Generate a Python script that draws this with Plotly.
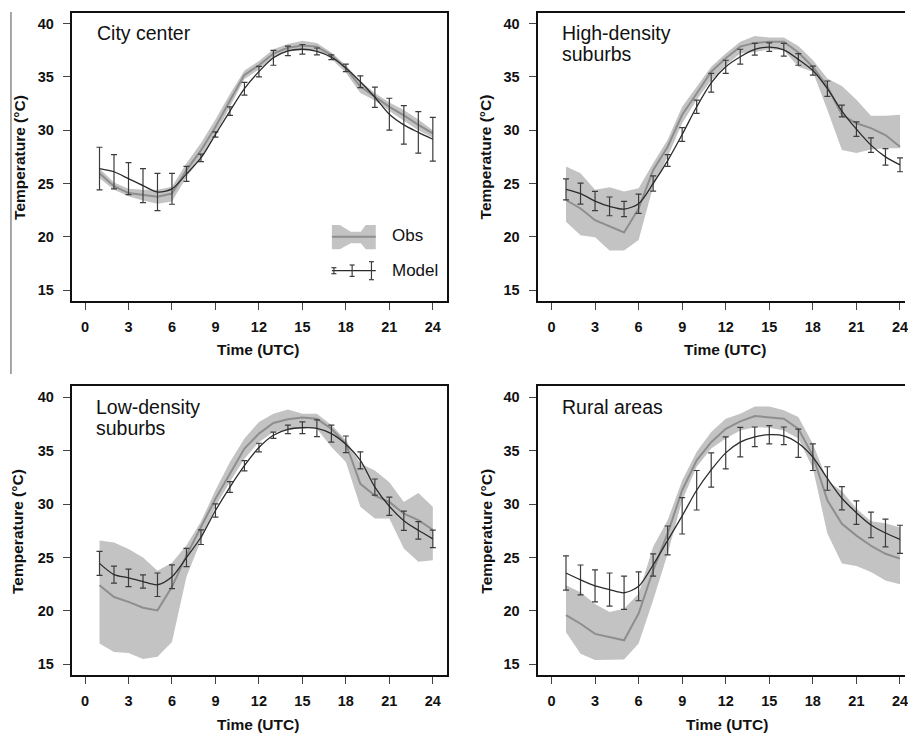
import plotly.graph_objects as go

hours = list(range(1, 25))
x_ticks = [0, 3, 6, 9, 12, 15, 18, 21, 24]
y_ticks = [15, 20, 25, 30, 35, 40]

panel_titles = [["City center"], ["High-density", "suburbs"], ["Low-density", "suburbs"], ["Rural areas"]]

# City center
model1 = [26.4, 26.1, 25.45, 24.8, 24.2, 24.5, 25.9, 27.4, 29.6, 31.8, 33.9, 35.5, 36.8, 37.45, 37.6, 37.4, 36.85, 35.85, 34.55, 33.1, 31.5, 30.5, 29.8, 29.15]
err1 = [2.0, 1.6, 1.5, 1.6, 1.75, 1.45, 0.7, 0.35, 0.25, 0.4, 0.6, 0.5, 0.7, 0.45, 0.45, 0.32, 0.22, 0.35, 0.55, 0.95, 1.5, 1.8, 1.95, 2.05]
obs1 = [25.95, 24.75, 24.1, 23.9, 23.75, 24.05, 26.25, 28.1, 30.3, 32.8, 35.2, 36.1, 37.2, 37.75, 37.95, 37.85, 37.05, 35.8, 34.1, 33.15, 32.2, 31.4, 30.5, 29.7]
obs1_lo = [25.5, 24.4, 23.8, 23.4, 23.1, 23.3, 25.6, 27.4, 29.6, 32.2, 34.8, 35.7, 36.8, 37.4, 37.5, 37.5, 36.7, 35.4, 33.5, 32.8, 31.8, 30.9, 30.0, 29.3]
obs1_hi = [26.4, 25.1, 24.5, 24.4, 24.4, 24.7, 26.9, 28.8, 31.0, 33.4, 35.6, 36.5, 37.6, 38.1, 38.4, 38.2, 37.3, 36.1, 34.6, 33.5, 32.6, 31.9, 31.0, 30.0]

# High-density suburbs
model2 = [24.45, 24.05, 23.35, 22.85, 22.6, 23.1, 25.0, 27.15, 29.6, 32.2, 34.45, 35.95, 36.9, 37.6, 37.8, 37.55, 36.65, 35.6, 33.9, 31.8, 30.1, 28.6, 27.5, 26.75]
err2 = [0.98, 0.98, 0.9, 0.88, 0.72, 0.9, 0.72, 0.55, 0.65, 0.62, 0.88, 0.62, 0.7, 0.55, 0.4, 0.6, 0.55, 0.42, 0.72, 0.55, 0.68, 0.68, 0.78, 0.65]
obs2 = [23.45, 22.65, 21.55, 21.0, 20.4, 22.65, 26.25, 28.45, 31.45, 33.45, 35.5, 36.75, 37.85, 38.2, 38.3, 38.3, 37.3, 35.95, 34.1, 31.45, 30.65, 30.2, 29.55, 28.45]
obs2_lo = [21.4, 20.15, 19.95, 18.7, 18.7, 19.7, 24.7, 27.5, 30.65, 32.85, 34.7, 36.1, 37.2, 37.35, 37.6, 37.5, 35.95, 35.5, 31.9, 28.15, 27.85, 28.2, 28.3, 28.3]
obs2_hi = [26.6, 25.95, 24.4, 24.65, 24.25, 24.55, 26.9, 29.1, 32.2, 34.1, 35.95, 37.2, 38.3, 38.85, 38.7, 38.7, 37.9, 36.6, 34.85, 34.15, 32.85, 31.35, 31.35, 31.45]

# Low-density suburbs
model3 = [24.45, 23.4, 23.1, 22.75, 22.45, 23.2, 25.0, 26.9, 29.4, 31.6, 33.6, 35.3, 36.45, 37.0, 37.15, 37.1, 36.6, 35.6, 34.1, 31.6, 29.8, 28.45, 27.55, 26.75]
err3 = [1.12, 0.8, 0.82, 0.62, 1.1, 1.12, 0.85, 0.68, 0.62, 0.5, 0.48, 0.4, 0.3, 0.4, 0.55, 0.78, 0.8, 0.78, 0.8, 0.75, 0.85, 0.9, 0.82, 0.82]
obs3 = [22.4, 21.3, 20.85, 20.3, 20.05, 22.25, 25.2, 27.85, 30.5, 32.85, 35.2, 36.6, 37.6, 37.95, 38.1, 38.0, 37.05, 35.65, 31.9, 30.8, 30.2, 29.1, 28.5, 27.6]
obs3_lo = [16.95, 16.15, 16.05, 15.5, 15.7, 17.1, 23.2, 26.6, 29.75, 32.1, 34.25, 35.8, 36.75, 36.9, 37.2, 37.05, 35.35, 33.95, 29.75, 28.65, 28.65, 25.85, 24.6, 24.75]
obs3_hi = [26.6, 26.4, 25.8, 25.0, 23.75, 24.5, 26.15, 28.35, 31.3, 33.95, 36.15, 37.7, 38.45, 38.85, 38.45, 38.45, 37.4, 36.0, 33.8, 33.15, 32.05, 30.2, 31.05, 29.75]

# Rural areas
model4 = [23.55, 22.9, 22.35, 22.0, 21.7, 22.3, 24.3, 26.6, 28.9, 31.3, 33.2, 34.8, 35.8, 36.3, 36.5, 36.4, 35.7, 34.4, 32.4, 30.55, 29.2, 28.05, 27.3, 26.7]
err4 = [1.6, 1.4, 1.5, 1.55, 1.55, 1.35, 1.05, 1.35, 1.7, 1.85, 1.6, 1.5, 1.38, 0.92, 0.85, 0.82, 1.32, 1.25, 1.1, 1.08, 1.1, 1.2, 1.3, 1.32]
obs4 = [19.6, 18.8, 17.85, 17.55, 17.25, 19.75, 23.8, 27.25, 31.3, 34.1, 35.8, 37.05, 37.75, 38.25, 38.15, 38.0, 37.05, 34.55, 30.35, 28.15, 27.05, 26.1, 25.35, 24.9]
obs4_lo = [18.0, 16.0, 15.4, 15.4, 15.45, 16.95, 21.0, 25.35, 30.35, 33.5, 35.2, 36.15, 36.9, 37.2, 37.15, 36.9, 36.15, 33.35, 27.25, 24.45, 24.2, 23.65, 22.85, 22.5]
obs4_hi = [22.4, 21.75, 20.65, 19.9, 20.2, 21.6, 26.0, 28.5, 32.2, 34.9, 36.75, 38.0, 38.45, 39.15, 39.15, 38.8, 38.15, 35.65, 32.2, 31.2, 29.6, 28.4, 28.2, 27.8]

models = [model1, model2, model3, model4]
errs = [err1, err2, err3, err4]
obss = [obs1, obs2, obs3, obs4]
los = [obs1_lo, obs2_lo, obs3_lo, obs4_lo]
his = [obs1_hi, obs2_hi, obs3_hi, obs4_hi]

W, H = 908, 734
def px(x):
    return x / W
def py(y):
    return 1 - y / H

BAND = "#c3c3c3"
OBS_LINE = "#8e8e8e"
MODEL_LINE = "#2b2b2b"
ERR = "#3c3c3c"

TICK_FONT = dict(family="Liberation Sans, Arial, sans-serif", size=14.5, color="#111", weight="bold")
TITLE_FONT = dict(family="Liberation Sans, Arial, sans-serif", size=15.5, color="#111", weight="bold")
LABEL_FONT = dict(family="Liberation Sans, Arial, sans-serif", size=19.5, color="#111")
LEG_FONT = dict(family="Liberation Sans, Arial, sans-serif", size=17, color="#111")

# panel geometry (pixels)
panels = [
    dict(x0=72, x1=448, y0=13, y1=301, xr=[-0.915, 24.945], yr=[13.967, 41.005], right=False),
    dict(x0=539.3, x1=908, y0=13, y1=301, xr=[-0.961, 24.345], yr=[13.967, 41.005], right=True),
    dict(x0=72, x1=448, y0=386, y1=675, xr=[-0.915, 24.945], yr=[14.0, 41.06], right=False),
    dict(x0=539.3, x1=908, y0=386, y1=675, xr=[-0.961, 24.345], yr=[14.0, 41.06], right=True),
]

fig = go.Figure()
layout = dict(width=W, height=H, margin=dict(l=0, r=0, t=0, b=0), paper_bgcolor="white",
              plot_bgcolor="white", showlegend=False)

for i, p in enumerate(panels):
    n = "" if i == 0 else str(i + 1)
    xa, ya = "x" + n, "y" + n
    fig.add_trace(go.Scatter(x=hours, y=los[i], mode="lines", line=dict(width=0, color=BAND),
                             xaxis=xa, yaxis=ya, hoverinfo="skip"))
    fig.add_trace(go.Scatter(x=hours, y=his[i], mode="lines", line=dict(width=0, color=BAND),
                             fill="tonexty", fillcolor=BAND, xaxis=xa, yaxis=ya, hoverinfo="skip"))
    fig.add_trace(go.Scatter(x=hours, y=obss[i], mode="lines", line=dict(width=2, color=OBS_LINE),
                             xaxis=xa, yaxis=ya))
    fig.add_trace(go.Scatter(x=hours, y=models[i], mode="lines",
                             line=dict(width=1.3, color=MODEL_LINE, shape="spline", smoothing=0.8),
                             error_y=dict(type="data", array=errs[i], visible=True, color=ERR,
                                          thickness=1.2, width=3),
                             xaxis=xa, yaxis=ya))
    layout["xaxis" + n] = dict(domain=[px(p["x0"]), px(p["x1"])], range=p["xr"], anchor=ya,
                               tickvals=x_ticks, ticks="outside", ticklen=7, tickwidth=1.2,
                               tickcolor="#444", showline=True, mirror=True, linecolor="#111",
                               linewidth=2, showgrid=False, zeroline=False, tickfont=TICK_FONT,
                               ticklabelstandoff=5, ticklabeloverflow="allow")
    layout["yaxis" + n] = dict(domain=[py(p["y1"]), py(p["y0"])], range=p["yr"], anchor=xa,
                               tickvals=y_ticks, ticks="outside", ticklen=7, tickwidth=1.2,
                               tickcolor="#444", showline=True, mirror=(not p["right"]),
                               linecolor="#111", linewidth=2, showgrid=False, zeroline=False,
                               tickfont=TICK_FONT, ticklabelstandoff=6)

fig.update_layout(**layout)

annotations = []
# panel titles
title_pos = [(95, 33), (562.3, 33), (94, 407), (562.3, 407)]
for i, lines in enumerate(panel_titles):
    tx, ty = title_pos[i]
    for j, line in enumerate(lines):
        annotations.append(dict(text=line, x=px(tx), y=py(ty + 21 * j), xref="paper", yref="paper",
                                xanchor="left", yanchor="middle", showarrow=False, font=LABEL_FONT))

# axis titles
ytitle_pos = [(19, 157), (487, 157), (17, 531), (487.3, 531)]
xtitle_pos = [(259, 349), (727, 349), (259, 724), (729, 724)]
for (yx, yy), (xx, xy) in zip(ytitle_pos, xtitle_pos):
    annotations.append(dict(text="Temperature (°C)", x=px(yx), y=py(yy), xref="paper", yref="paper",
                            xanchor="center", yanchor="middle", textangle=-90, showarrow=False,
                            font=TITLE_FONT))
    annotations.append(dict(text="Time (UTC)", x=px(xx), y=py(xy), xref="paper", yref="paper",
                            xanchor="center", yanchor="middle", showarrow=False, font=TITLE_FONT))

# legend labels
annotations.append(dict(text="Obs", x=px(391), y=py(236), xref="paper", yref="paper",
                        xanchor="left", yanchor="middle", showarrow=False, font=LEG_FONT))
annotations.append(dict(text="Model", x=px(391), y=py(270), xref="paper", yref="paper",
                        xanchor="left", yanchor="middle", showarrow=False, font=LEG_FONT))

shapes = []
# legend glyph: obs band
band_pts = [(333, 225), (341, 225), (352, 231.7), (362, 231.7), (367, 225), (377, 225),
            (377, 249.3), (367, 249.3), (362, 243.3), (352, 243.3), (341, 249.3), (333, 249.3)]
path = "M " + " L ".join(f"{px(a):.5f},{py(b):.5f}" for a, b in band_pts) + " Z"
shapes.append(dict(type="path", path=path, xref="paper", yref="paper", fillcolor=BAND,
                   line=dict(width=0)))
shapes.append(dict(type="line", x0=px(333), x1=px(377), y0=py(236.8), y1=py(236.8), xref="paper",
                   yref="paper", line=dict(color=OBS_LINE, width=2)))
# legend glyph: model
shapes.append(dict(type="line", x0=px(333), x1=px(377), y0=py(270.7), y1=py(270.7), xref="paper",
                   yref="paper", line=dict(color=MODEL_LINE, width=1.2)))
for bx, bh in [(335, 3), (353.3, 5.7), (372.7, 9)]:
    shapes.append(dict(type="line", x0=px(bx), x1=px(bx), y0=py(270.7 - bh), y1=py(270.7 + bh),
                       xref="paper", yref="paper", line=dict(color=ERR, width=1.2)))
    for yy in (270.7 - bh, 270.7 + bh):
        shapes.append(dict(type="line", x0=px(bx - 2.5), x1=px(bx + 2.5), y0=py(yy), y1=py(yy),
                           xref="paper", yref="paper", line=dict(color=ERR, width=1.2)))
# thin vertical rule at the far left of the page
shapes.append(dict(type="line", x0=px(11), x1=px(11), y0=py(12), y1=py(374), xref="paper",
                   yref="paper", line=dict(color="#8a8a8a", width=1.5)))

fig.update_layout(annotations=annotations, shapes=shapes)
fig.write_html("out.html")
